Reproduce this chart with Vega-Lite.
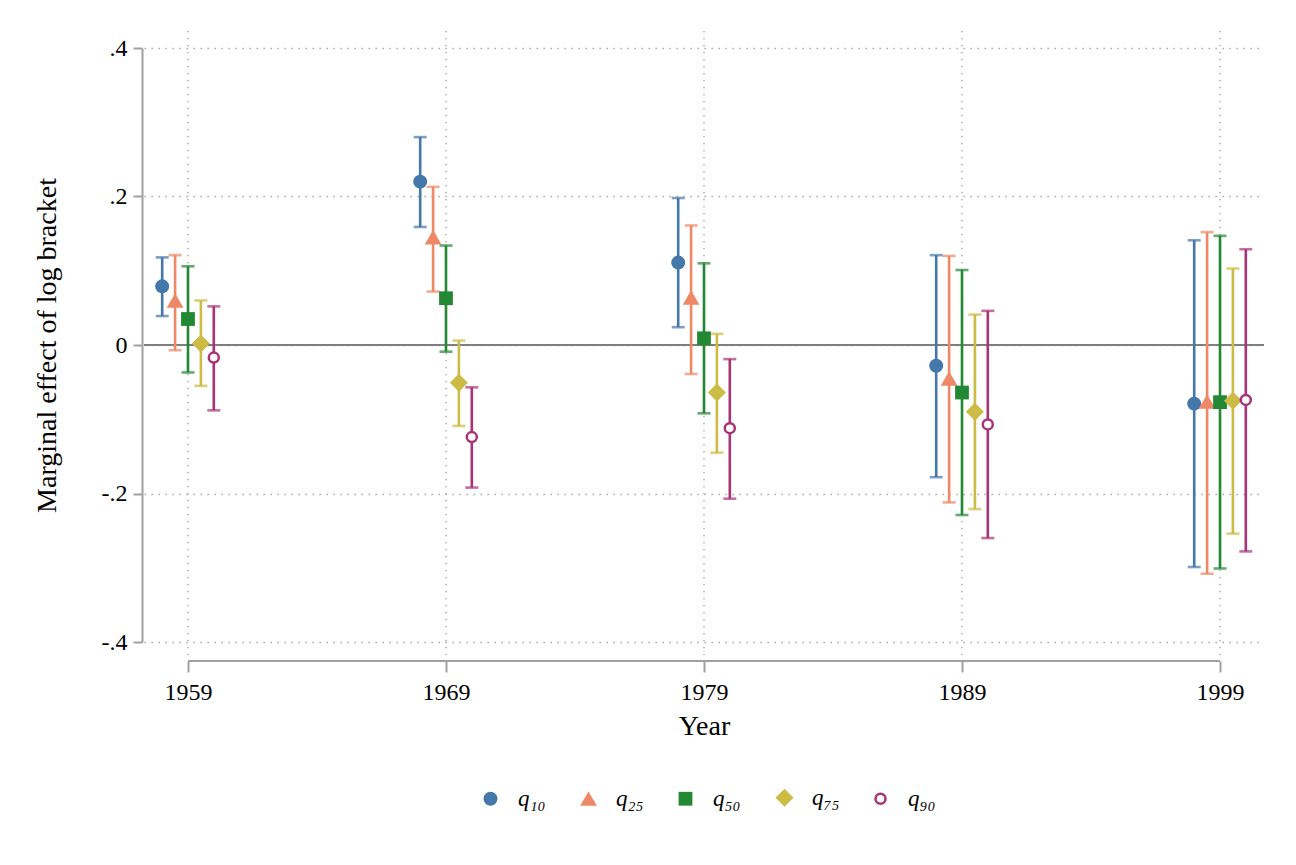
{
  "$schema": "https://vega.github.io/schema/vega-lite/v6.json",
  "description": "Marginal effect of log bracket by year and quantile",
  "autosize": {"type": "none"},
  "padding": {"left": 144, "top": 48, "right": 32, "bottom": 223},
  "width": 1120,
  "height": 594,
  "background": "white",
  "config": {
    "view": {"stroke": null},
    "font": "Liberation Serif",
    "axis": {
      "domainColor": "#a0a0a0",
      "domainWidth": 2,
      "tickColor": "#a0a0a0",
      "tickWidth": 2,
      "labelColor": "black",
      "titleColor": "black",
      "labelFont": "Liberation Serif",
      "titleFont": "Liberation Serif",
      "titleFontWeight": "normal"
    }
  },
  "datasets": {
    "est": [
      {"year": "1959", "q": "q₁₀", "b": 0.079, "lo": 0.039, "hi": 0.118},
      {"year": "1959", "q": "q₂₅", "b": 0.060, "lo": -0.007, "hi": 0.121},
      {"year": "1959", "q": "q₅₀", "b": 0.035, "lo": -0.037, "hi": 0.106},
      {"year": "1959", "q": "q₇₅", "b": 0.002, "lo": -0.055, "hi": 0.060},
      {"year": "1959", "q": "q₉₀", "b": -0.017, "lo": -0.088, "hi": 0.052},
      {"year": "1969", "q": "q₁₀", "b": 0.220, "lo": 0.159, "hi": 0.280},
      {"year": "1969", "q": "q₂₅", "b": 0.145, "lo": 0.072, "hi": 0.213},
      {"year": "1969", "q": "q₅₀", "b": 0.063, "lo": -0.009, "hi": 0.134},
      {"year": "1969", "q": "q₇₅", "b": -0.051, "lo": -0.109, "hi": 0.006},
      {"year": "1969", "q": "q₉₀", "b": -0.124, "lo": -0.192, "hi": -0.057},
      {"year": "1979", "q": "q₁₀", "b": 0.111, "lo": 0.024, "hi": 0.198},
      {"year": "1979", "q": "q₂₅", "b": 0.064, "lo": -0.039, "hi": 0.161},
      {"year": "1979", "q": "q₅₀", "b": 0.009, "lo": -0.092, "hi": 0.110},
      {"year": "1979", "q": "q₇₅", "b": -0.064, "lo": -0.145, "hi": 0.015},
      {"year": "1979", "q": "q₉₀", "b": -0.112, "lo": -0.207, "hi": -0.019},
      {"year": "1989", "q": "q₁₀", "b": -0.028, "lo": -0.178, "hi": 0.121},
      {"year": "1989", "q": "q₂₅", "b": -0.045, "lo": -0.212, "hi": 0.120},
      {"year": "1989", "q": "q₅₀", "b": -0.064, "lo": -0.229, "hi": 0.101},
      {"year": "1989", "q": "q₇₅", "b": -0.090, "lo": -0.221, "hi": 0.041},
      {"year": "1989", "q": "q₉₀", "b": -0.107, "lo": -0.260, "hi": 0.046},
      {"year": "1999", "q": "q₁₀", "b": -0.079, "lo": -0.299, "hi": 0.141},
      {"year": "1999", "q": "q₂₅", "b": -0.076, "lo": -0.308, "hi": 0.152},
      {"year": "1999", "q": "q₅₀", "b": -0.077, "lo": -0.301, "hi": 0.147},
      {"year": "1999", "q": "q₇₅", "b": -0.075, "lo": -0.254, "hi": 0.103},
      {"year": "1999", "q": "q₉₀", "b": -0.074, "lo": -0.278, "hi": 0.129}
    ],
    "years": [
      {"year": "1959"}, {"year": "1969"}, {"year": "1979"}, {"year": "1989"}, {"year": "1999"}
    ]
  },
  "data": {"name": "est"},
  "layer": [
    {
      "data": {"name": "years"},
      "mark": {"type": "rule", "color": "#9a9a9a", "strokeWidth": 1.3, "strokeDash": [1.3, 5.7]},
      "encoding": {
        "x": {"field": "year", "type": "ordinal", "scale": {"type": "point", "padding": 0.1705}},
        "y": {"datum": 0.4228},
        "y2": {"datum": -0.4175}
      }
    },
    {
      "mark": {"type": "rule", "color": "#7f7f7f", "strokeWidth": 2},
      "encoding": {"y": {"datum": 0}}
    },
    {
      "data": {"name": "years"},
      "transform": [{"filter": "datum.year == '1959'"}],
      "mark": {"type": "rule", "color": "#a0a0a0", "strokeWidth": 2},
      "encoding": {
        "x": {"field": "year", "type": "ordinal", "scale": {"type": "point", "padding": 0.1705}},
        "x2": {"datum": "1999"},
        "y": {"datum": -0.4256}
      }
    },
    {
      "mark": {"type": "rule", "strokeWidth": 2.6},
      "encoding": {
        "x": {
          "field": "year",
          "type": "ordinal",
          "scale": {"type": "point", "padding": 0.1705},
          "axis": {
            "title": "Year",
            "domain": false,
            "grid": false,
            "offset": 19,
            "tickSize": 11,
            "labelAngle": 0,
            "labelAlign": "center",
            "labelFontSize": 24,
            "labelPadding": 20,
            "titleFontSize": 28,
            "titlePadding": 8
          }
        },
        "xOffset": {
          "field": "q",
          "type": "nominal",
          "scale": {"domain": ["q₁₀", "q₂₅", "q₅₀", "q₇₅", "q₉₀"], "range": [-32.25, 32.25]}
        },
        "y": {
          "field": "lo",
          "type": "quantitative",
          "scale": {"domain": [-0.4, 0.4], "nice": false, "zero": false},
          "axis": {
            "title": "Marginal effect of log bracket",
            "values": [-0.4, -0.2, 0, 0.2, 0.4],
            "labelExpr": "datum.value == 0 ? '0' : (datum.value < 0 ? '-' : '') + replace(format(abs(datum.value), '.1f'), '0.', '.')",
            "offset": 2,
            "tickSize": 9,
            "labelFontSize": 24,
            "labelPadding": 6,
            "titleFontSize": 28,
            "titlePadding": 40,
            "grid": true,
            "gridColor": "#9a9a9a",
            "gridWidth": 1.3,
            "gridDash": [1.3, 5.7]
          }
        },
        "y2": {"field": "hi"},
        "color": {
          "field": "q",
          "type": "nominal",
          "scale": {"range": ["#4477AA", "#EE8866", "#228833", "#CCBB44", "#AA3377"]},
          "legend": null
        }
      }
    },
    {
      "mark": {"type": "tick", "thickness": 2.6, "size": 13},
      "encoding": {
        "x": {"field": "year", "type": "ordinal", "scale": {"type": "point", "padding": 0.1705}},
        "xOffset": {"field": "q", "type": "nominal", "scale": {"domain": ["q₁₀", "q₂₅", "q₅₀", "q₇₅", "q₉₀"], "range": [-32.25, 32.25]}},
        "y": {"field": "lo", "type": "quantitative"},
        "color": {"field": "q", "type": "nominal", "legend": null}
      }
    },
    {
      "mark": {"type": "tick", "thickness": 2.6, "size": 13},
      "encoding": {
        "x": {"field": "year", "type": "ordinal", "scale": {"type": "point", "padding": 0.1705}},
        "xOffset": {"field": "q", "type": "nominal", "scale": {"domain": ["q₁₀", "q₂₅", "q₅₀", "q₇₅", "q₉₀"], "range": [-32.25, 32.25]}},
        "y": {"field": "hi", "type": "quantitative"},
        "color": {"field": "q", "type": "nominal", "legend": null}
      }
    },
    {
      "mark": {"type": "point", "strokeWidth": 2.5, "opacity": 1, "fillOpacity": 1},
      "encoding": {
        "x": {"field": "year", "type": "ordinal", "scale": {"type": "point", "padding": 0.1705}},
        "xOffset": {"field": "q", "type": "nominal", "scale": {"domain": ["q₁₀", "q₂₅", "q₅₀", "q₇₅", "q₉₀"], "range": [-32.25, 32.25]}},
        "y": {"field": "b", "type": "quantitative"},
        "shape": {
          "field": "q",
          "type": "nominal",
          "scale": {"domain": ["q₁₀", "q₂₅", "q₅₀", "q₇₅", "q₉₀"], "range": ["circle", "triangle-up", "square", "diamond", "circle"]},
          "legend": {
            "title": null,
            "orient": "none",
            "legendX": 335,
            "legendY": 738,
            "direction": "horizontal",
            "columnPadding": 29,
            "labelOffset": 16,
            "labelFontSize": 23,
            "labelFontStyle": "italic",
            "labelFont": "Liberation Serif",
            "labelColor": "black",
            "symbolStrokeWidth": 2.5
          }
        },
        "fill": {
          "field": "q",
          "type": "nominal",
          "scale": {"domain": ["q₁₀", "q₂₅", "q₅₀", "q₇₅", "q₉₀"], "range": ["#4477AA", "#EE8866", "#228833", "#CCBB44", "white"]}
        },
        "stroke": {
          "field": "q",
          "type": "nominal",
          "scale": {"domain": ["q₁₀", "q₂₅", "q₅₀", "q₇₅", "q₉₀"], "range": ["transparent", "transparent", "transparent", "transparent", "#AA3377"]}
        },
        "size": {
          "field": "q",
          "type": "nominal",
          "scale": {"type": "ordinal", "domain": ["q₁₀", "q₂₅", "q₅₀", "q₇₅", "q₉₀"], "range": [196, 280, 190, 324, 100]}
        }
      }
    }
  ]
}
